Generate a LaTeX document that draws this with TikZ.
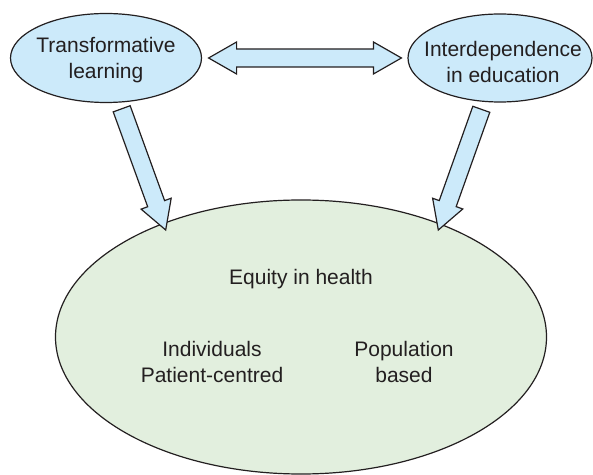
\documentclass[tikz,border=0pt]{standalone}
\usepackage{xcolor}
\usepackage{fontspec}
\setmainfont{Liberation Sans}
\usepackage{tikz}
\usetikzlibrary{shapes.geometric,calc}
\definecolor{bubbleblue}{RGB}{204,234,250}
\definecolor{healthgreen}{RGB}{226,239,222}
\definecolor{inkgrey}{RGB}{35,31,32}

\newcommand\blockarrow[2]{%
  \coordinate (hd) at ($(#2)!14pt!(#1)$);
  \draw[arrowblk] ($(#1)!4.5pt!90:(#2)$) -- ($(hd)!4.5pt!-90:(#1)$)
    -- ($(hd)!8pt!-90:(#1)$) -- (#2) -- ($(hd)!8pt!90:(#1)$)
    -- ($(hd)!4.5pt!90:(#1)$) -- ($(#1)!4.5pt!-90:(#2)$) -- cycle;}
\newcommand\twowayarrow[2]{%
  \coordinate (ha) at ($(#1)!14pt!(#2)$);
  \coordinate (hb) at ($(#2)!14pt!(#1)$);
  \draw[arrowblk] (#1) -- ($(ha)!8pt!90:(#2)$) -- ($(ha)!4.5pt!90:(#2)$)
    -- ($(hb)!4.5pt!-90:(#1)$) -- ($(hb)!8pt!-90:(#1)$) -- (#2)
    -- ($(hb)!8pt!90:(#1)$) -- ($(hb)!4.5pt!90:(#1)$)
    -- ($(ha)!4.5pt!-90:(#2)$) -- ($(ha)!8pt!-90:(#2)$) -- cycle;}

\begin{document}
\begin{tikzpicture}[x=0.5pt, y=-0.5pt,
    bubble/.style={draw=inkgrey, fill=bubbleblue, ellipse, line width=0.6pt, inner sep=0pt},
    arrowblk/.style={draw=inkgrey, fill=bubbleblue, line width=0.6pt},
    txt/.style={text=inkgrey, align=center, inner sep=0pt, font=\fontsize{10.5}{13}\selectfont}]
  \useasboundingbox (0,0) rectangle (593,475);

  \node[bubble, minimum width=95.5pt, minimum height=44.5pt] (learn) at (106,58) {};
  \node[bubble, minimum width=92pt, minimum height=44pt] (interdep) at (500,58) {};
  \node[draw=inkgrey, fill=healthgreen, ellipse, line width=0.6pt, minimum width=245.5pt, minimum height=137pt] (equity) at (301,337) {};

  \node[txt] (learntext) at (106,60.5) {Transformative\\learning};
  \node[txt] (interdeptext) at (503,62) {Interdependence\\in education};
  \node[txt, anchor=base] (equitytext) at (301,285) {Equity in health};
  \node[txt] (indiv) at (212,362.4) {Individuals\\Patient-centred};
  \node[txt] (popul) at (404,362.4) {Population\\based};

  \coordinate (tailL) at (121.7,108.8);
  \coordinate (tipL) at (165.7,230);
  \coordinate (tailR) at (481.3,109.3);
  \coordinate (tipR) at (438.3,230);
  \coordinate (linkL) at ([xshift=3.25pt]learn.east);
  \coordinate (linkR) at ([xshift=-3pt]interdep.west);

  \twowayarrow{linkL}{linkR}
  \blockarrow{tailL}{tipL}
  \blockarrow{tailR}{tipR}
\end{tikzpicture}
\end{document}
